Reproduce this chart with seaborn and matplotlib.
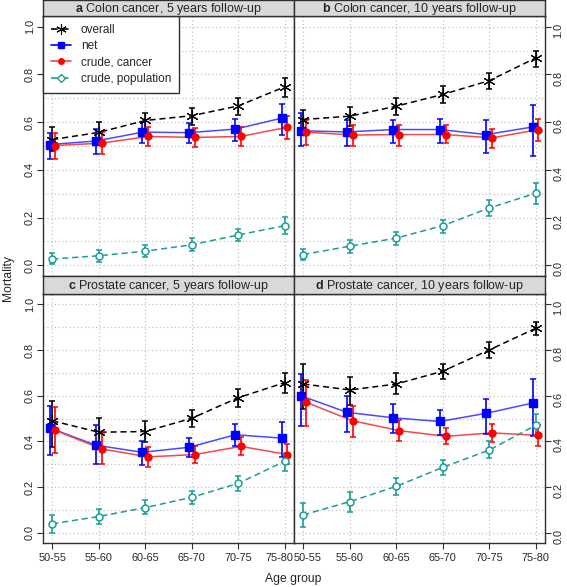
import numpy as np
import pandas as pd
import seaborn as sns
import matplotlib.pyplot as plt
import matplotlib.transforms as mtransforms
from matplotlib.lines import Line2D

sns.set_style("white")
plt.rcParams['font.family'] = ['Liberation Sans', 'DejaVu Sans']
plt.rcParams['mathtext.fontset'] = 'custom'
plt.rcParams['mathtext.bf'] = 'Liberation Sans:bold'
plt.rcParams['mathtext.rm'] = 'Liberation Sans'

age_groups = ["50-55", "55-60", "60-65", "65-70", "70-75", "75-80"]
series_names = ["overall", "net", "crude, cancer", "crude, population"]

# a: colon cancer, 5 years
colon5_overall = [0.527, 0.557, 0.607, 0.627, 0.668, 0.748]
colon5_overall_lo = [0.480, 0.515, 0.568, 0.589, 0.628, 0.705]
colon5_overall_hi = [0.578, 0.600, 0.640, 0.659, 0.703, 0.784]
colon5_net = [0.506, 0.521, 0.558, 0.556, 0.571, 0.617]
colon5_net_lo = [0.447, 0.468, 0.512, 0.512, 0.522, 0.548]
colon5_net_hi = [0.556, 0.570, 0.602, 0.598, 0.614, 0.676]
colon5_crude = [0.502, 0.512, 0.540, 0.536, 0.540, 0.579]
colon5_crude_lo = [0.447, 0.466, 0.500, 0.497, 0.500, 0.530]
colon5_crude_hi = [0.554, 0.560, 0.580, 0.577, 0.580, 0.624]
colon5_pop = [0.026, 0.040, 0.059, 0.086, 0.127, 0.166]
colon5_pop_lo = [0.004, 0.014, 0.034, 0.060, 0.100, 0.130]
colon5_pop_hi = [0.052, 0.066, 0.085, 0.114, 0.153, 0.204]

# b: colon cancer, 10 years
colon10_overall = [0.611, 0.625, 0.667, 0.716, 0.774, 0.869]
colon10_overall_lo = [0.550, 0.583, 0.628, 0.680, 0.737, 0.831]
colon10_overall_hi = [0.653, 0.664, 0.700, 0.750, 0.805, 0.897]
colon10_net = [0.564, 0.559, 0.569, 0.569, 0.548, 0.580]
colon10_net_lo = [0.498, 0.500, 0.514, 0.514, 0.470, 0.456]
colon10_net_hi = [0.640, 0.610, 0.610, 0.614, 0.610, 0.672]
colon10_crude = [0.558, 0.546, 0.548, 0.548, 0.534, 0.569]
colon10_crude_lo = [0.505, 0.498, 0.502, 0.512, 0.492, 0.519]
colon10_crude_hi = [0.610, 0.590, 0.590, 0.586, 0.572, 0.614]
colon10_pop = [0.045, 0.080, 0.114, 0.166, 0.240, 0.302]
colon10_pop_lo = [0.021, 0.052, 0.086, 0.136, 0.206, 0.258]
colon10_pop_hi = [0.070, 0.105, 0.139, 0.191, 0.272, 0.344]

# c: prostate cancer, 5 years
prost5_overall = [0.490, 0.440, 0.443, 0.501, 0.591, 0.657]
prost5_overall_lo = [0.376, 0.385, 0.397, 0.462, 0.552, 0.610]
prost5_overall_hi = [0.578, 0.502, 0.488, 0.538, 0.629, 0.697]
prost5_net = [0.459, 0.383, 0.352, 0.374, 0.429, 0.414]
prost5_net_lo = [0.340, 0.302, 0.298, 0.330, 0.380, 0.330]
prost5_net_hi = [0.553, 0.470, 0.401, 0.415, 0.477, 0.484]
prost5_crude = [0.448, 0.367, 0.332, 0.342, 0.378, 0.342]
prost5_crude_lo = [0.347, 0.302, 0.287, 0.307, 0.341, 0.300]
prost5_crude_hi = [0.550, 0.436, 0.375, 0.379, 0.417, 0.388]
prost5_pop = [0.039, 0.071, 0.110, 0.155, 0.216, 0.313]
prost5_pop_lo = [0.000, 0.040, 0.081, 0.126, 0.182, 0.270]
prost5_pop_hi = [0.078, 0.106, 0.143, 0.184, 0.247, 0.350]

# d: prostate cancer, 10 years
prost10_overall = [0.651, 0.625, 0.651, 0.707, 0.800, 0.895]
prost10_overall_lo = [0.542, 0.560, 0.606, 0.671, 0.766, 0.866]
prost10_overall_hi = [0.737, 0.683, 0.698, 0.740, 0.834, 0.924]
prost10_net = [0.600, 0.527, 0.503, 0.487, 0.523, 0.568]
prost10_net_lo = [0.467, 0.440, 0.437, 0.429, 0.430, 0.422]
prost10_net_hi = [0.695, 0.600, 0.562, 0.539, 0.586, 0.671]
prost10_crude = [0.571, 0.490, 0.447, 0.422, 0.437, 0.426]
prost10_crude_lo = [0.467, 0.421, 0.403, 0.388, 0.398, 0.378]
prost10_crude_hi = [0.670, 0.555, 0.493, 0.458, 0.476, 0.470]
prost10_pop = [0.078, 0.136, 0.203, 0.286, 0.362, 0.470]
prost10_pop_lo = [0.025, 0.092, 0.167, 0.252, 0.327, 0.425]
prost10_pop_hi = [0.131, 0.180, 0.239, 0.317, 0.400, 0.519]

panels = [
    ("a", "Colon cancer, 5 years follow-up",
     [(colon5_overall, colon5_overall_lo, colon5_overall_hi),
      (colon5_net, colon5_net_lo, colon5_net_hi),
      (colon5_crude, colon5_crude_lo, colon5_crude_hi),
      (colon5_pop, colon5_pop_lo, colon5_pop_hi)]),
    ("b", "Colon cancer, 10 years follow-up",
     [(colon10_overall, colon10_overall_lo, colon10_overall_hi),
      (colon10_net, colon10_net_lo, colon10_net_hi),
      (colon10_crude, colon10_crude_lo, colon10_crude_hi),
      (colon10_pop, colon10_pop_lo, colon10_pop_hi)]),
    ("c", "Prostate cancer, 5 years follow-up",
     [(prost5_overall, prost5_overall_lo, prost5_overall_hi),
      (prost5_net, prost5_net_lo, prost5_net_hi),
      (prost5_crude, prost5_crude_lo, prost5_crude_hi),
      (prost5_pop, prost5_pop_lo, prost5_pop_hi)]),
    ("d", "Prostate cancer, 10 years follow-up",
     [(prost10_overall, prost10_overall_lo, prost10_overall_hi),
      (prost10_net, prost10_net_lo, prost10_net_hi),
      (prost10_crude, prost10_crude_lo, prost10_crude_hi),
      (prost10_pop, prost10_pop_lo, prost10_pop_hi)]),
]

# look of each series
styles = {
    "overall": dict(lc="black", mc="black", marker=(6, 2, 0), ls=(0, (4, 2.5)), dx=0.0, ms=8.5, fill=True),
    "net": dict(lc="#4a4aff", mc="#0000ff", marker="s", ls="-", dx=-0.06, ms=5.5, fill=True),
    "crude, cancer": dict(lc="#f04a4a", mc="#ff0000", marker="o", ls="-", dx=0.06, ms=5, fill=True),
    "crude, population": dict(lc="#1a9e96", mc="#1a9e96", marker="o", ls=(0, (4, 2.5)), dx=0.0, ms=5, fill=False),
}

W, H = 567, 587
fig = plt.figure(figsize=(W / 100, H / 100), dpi=100)

col_x = [43, 294]
col_w = 251
row_plot = [(16, 276), (294, 543)]
row_strip = [(0, 16), (276, 294)]

fs = 8.7
border = "#303030"

for i, (letter, title, data) in enumerate(panels):
    r, c = divmod(i, 2)
    x0 = col_x[c]
    top, bot = row_plot[r]
    ax = fig.add_axes([x0 / W, 1 - bot / H, col_w / W, (bot - top) / H])
    st, sb = row_strip[r]
    sax = fig.add_axes([x0 / W, 1 - sb / H, col_w / W, (sb - st) / H])
    sax.set_facecolor("#d9d9d9")
    sax.set_xticks([])
    sax.set_yticks([])
    for s in sax.spines.values():
        s.set_color(border)
        s.set_linewidth(1)
    sax.text(0.5, 0.45, r"$\mathbf{" + letter + "}$ " + title, ha="center", va="center",
             fontsize=9, transform=sax.transAxes)

    for name, (vals, lo, hi) in zip(series_names, data):
        st_ = styles[name]
        vals = np.array(vals)
        xs = np.arange(len(age_groups)) + st_["dx"]
        df = pd.DataFrame({"x": xs, "y": vals})
        sns.lineplot(data=df, x="x", y="y", ax=ax, color=st_["lc"], linestyle=st_["ls"],
                     linewidth=1.1, zorder=2)
        ax.errorbar(xs, vals, yerr=[vals - np.array(lo), np.array(hi) - vals], fmt="none",
                    ecolor=st_["mc"], elinewidth=1.2, capsize=2.5, capthick=1.1, zorder=3)
        ax.plot(xs, vals, linestyle="none", marker=st_["marker"], ms=st_["ms"],
                color=st_["mc"], mfc=st_["mc"] if st_["fill"] else "white",
                mew=0.8 if name == "overall" else (1.0 if st_["fill"] else 1.1), zorder=4)

    ax.set_xlim(-0.2, 5.2)
    ax.set_ylim(-0.045, 1.045)
    ax.set_xlabel("")
    ax.set_ylabel("")
    ax.set_xticks(range(len(age_groups)))
    ax.set_xticklabels(age_groups)
    ax.set_yticks(np.arange(0, 1.01, 0.2))
    ax.set_yticklabels([f"{v:.1f}" for v in np.arange(0, 1.01, 0.2)])
    ax.set_yticks(np.arange(0, 1.01, 0.1), minor=True)
    ax.grid(True, which="both", color="#c4c4c4", linestyle=(0, (1, 2)), linewidth=0.9)
    ax.set_axisbelow(True)
    for s in ax.spines.values():
        s.set_color(border)
        s.set_linewidth(1)
    ax.tick_params(axis="both", which="major", direction="out", length=4, width=0.8,
                   color=border, labelsize=7.8, pad=2)
    ax.tick_params(axis="y", which="minor", length=0)
    ax.tick_params(axis="y", labelrotation=90)
    for lab in ax.get_yticklabels():
        lab.set_va("center")
    if c == 0:
        ax.tick_params(axis="y", left=True, labelleft=True, right=False, labelright=False)
    else:
        ax.tick_params(axis="y", left=False, labelleft=False, right=True, labelright=True)
    if r == 0:
        ax.tick_params(axis="x", bottom=False, labelbottom=False)
    else:
        ax.tick_params(axis="x", bottom=True, labelbottom=True, pad=3)
        # keep neighbouring labels at the panel join apart
        labs = ax.get_xticklabels()
        if c == 0:
            labs[-1].set_transform(labs[-1].get_transform() +
                                   mtransforms.ScaledTranslation(-5 / 100, 0, fig.dpi_scale_trans))
        else:
            labs[0].set_transform(labs[0].get_transform() +
                                  mtransforms.ScaledTranslation(4 / 100, 0, fig.dpi_scale_trans))

    if i == 0:
        handles = []
        for name in series_names:
            st_ = styles[name]
            mk = "D" if name == "crude, population" else st_["marker"]
            handles.append(Line2D([0], [0], color=st_["lc"] if name != "net" else "#0000ff",
                                  linestyle=st_["ls"], linewidth=1.2, marker=mk,
                                  ms=st_["ms"] - 1 if name != "overall" else 7.5,
                                  mew=0.8 if name == "overall" else 1.0,
                                  mfc=st_["mc"] if st_["fill"] else "white", mec=st_["mc"]))
        leg = ax.legend(handles, series_names, loc="upper left", bbox_to_anchor=(0, 1),
                        borderaxespad=0, frameon=True, fancybox=False, fontsize=8.5,
                        handlelength=1.7, handletextpad=0.8, labelspacing=0.35,
                        borderpad=0.7)
        leg.get_frame().set_edgecolor(border)
        leg.get_frame().set_linewidth(1)
        leg.get_frame().set_alpha(1)

fig.text(8 / W, 1 - 278 / H, "Mortality", rotation=90, ha="center", va="center", fontsize=fs)
fig.text(293 / W, 1 - 579 / H, "Age group", ha="center", va="center", fontsize=fs)

fig.savefig("out.png", dpi=100)
